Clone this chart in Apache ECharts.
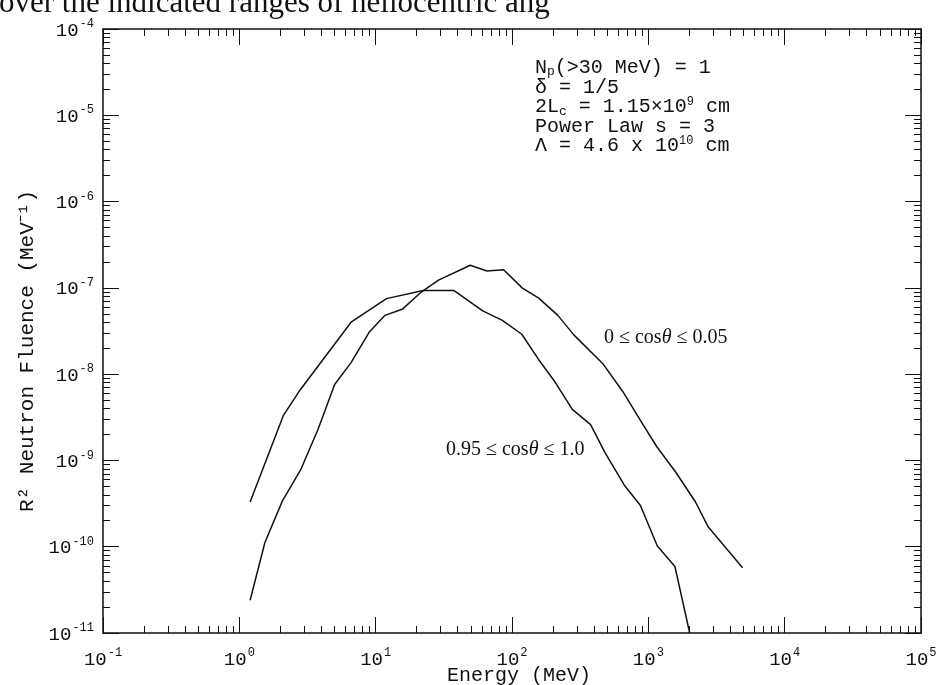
<!DOCTYPE html>
<html>
<head>
<meta charset="utf-8">
<script src="https://cdn.jsdelivr.net/npm/echarts@6/dist/echarts.min.js"></script>
<style>html,body{margin:0;padding:0;background:#fff;}#c{width:944px;height:685px;}</style>
</head>
<body>
<div id="c"></div>
<script>
// Energy (MeV) and R^2 neutron fluence (MeV^-1) for the two angular ranges
const energyPerp = [1.2, 1.54, 2.07, 2.82, 3.78, 5.0, 6.6, 8.95, 11.7, 15.8, 21.7, 28.9, 49.4, 65.5, 86.9, 118.6, 157, 217, 284, 468, 649, 877, 1151, 1600, 2218, 2754, 4910];
const fluencePerp = [2.4e-11, 1.12e-10, 3.4e-10, 7.8e-10, 2.3e-9, 7.6e-9, 1.36e-8, 3.05e-8, 4.8e-8, 5.7e-8, 9.0e-8, 1.23e-7, 1.83e-7, 1.57e-7, 1.62e-7, 1.0e-7, 7.6e-8, 4.8e-8, 2.85e-8, 1.3e-8, 6.3e-9, 2.9e-9, 1.45e-9, 7.2e-10, 3.3e-10, 1.69e-10, 5.7e-11];
const energyPara = [1.2, 2.1, 2.8, 6.6, 12, 22.3, 37.6, 61, 85, 118, 157, 207, 277, 377, 481, 665, 875, 1164, 1567, 2010];
const fluencePara = [3.3e-10, 3.3e-9, 6.6e-9, 4.0e-8, 7.5e-8, 9.3e-8, 9.3e-8, 5.4e-8, 4.2e-8, 2.9e-8, 1.47e-8, 8.1e-9, 3.9e-9, 2.6e-9, 1.23e-9, 5.2e-10, 3.0e-10, 1.02e-10, 5.9e-11, 1.0e-11];
const seriesNames = ['0 ≤ cosθ ≤ 0.05', '0.95 ≤ cosθ ≤ 1.0'];
const xRange = [0.1, 1e5];
const yRange = [1e-11, 1e-4];
const annotationLines = [
  'N{sub|p}(>30 MeV) = 1',
  'δ = 1/5',
  '2L{sub|c} = 1.15×10{sup|9} cm',
  'Power Law s = 3',
  'Λ = 4.6 x 10{sup|10} cm'
];

function minorValues(lo, hi) {
  const out = [];
  for (let d = Math.round(Math.log10(lo)); d < Math.round(Math.log10(hi)); d++) {
    for (let m = 2; m <= 9; m++) out.push(+(m * Math.pow(10, d)).toPrecision(3));
  }
  return out;
}
const MONO = 'Liberation Mono';
const SERIF = 'Liberation Serif';
const pow10 = v => {
  const e = Math.round(Math.log10(v));
  return '{b|10}{s|' + (e < 0 ? '-' + (-e) : e) + '}';
};
const labelRich = {
  b: { fontSize: 19, fontFamily: MONO, color: '#111', verticalAlign: 'bottom', lineHeight: 22 },
  s: { fontSize: 12, fontFamily: MONO, color: '#111', verticalAlign: 'bottom', lineHeight: 22, padding: [0, 0, 10, 1] }
};
const line = { show: true, lineStyle: { color: '#111', width: 1.5 } };
function axis(kind, pos, grid, major, withLabel) {
  const isX = kind === 'x';
  const range = isX ? xRange : yRange;
  const a = {
    type: 'log', logBase: 10, gridIndex: grid, position: pos,
    min: range[0], max: range[1],
    axisLine: line,
    splitLine: { show: false },
    axisTick: { show: true, inside: true, length: major ? 16 : 7, lineStyle: { color: '#111', width: 1 } },
    axisLabel: { show: withLabel, formatter: pow10, rich: labelRich, margin: isX ? 14 : 9 }
  };
  if (!major) {
    a.axisTick.customValues = minorValues(range[0], range[1]);
    a.axisLabel.show = false;
    a.axisLine = { show: false };
  }
  return a;
}
const gridRect = { left: 103, top: 29, right: 23, bottom: 52, outerBoundsMode: 'none', containLabel: false };
const xBottom = axis('x', 'bottom', 0, true, true);
xBottom.name = 'Energy (MeV)';
xBottom.nameLocation = 'middle';
xBottom.nameGap = 33;
xBottom.nameMoveOverlap = false;
xBottom.nameTextStyle = { fontFamily: MONO, fontSize: 20, color: '#111', padding: [0, 0, 0, 14] };
const yLeft = axis('y', 'left', 0, true, true);
yLeft.name = 'R² Neutron Fluence (MeV⁻¹)';
yLeft.nameLocation = 'middle';
yLeft.nameGap = 58;
yLeft.nameTextStyle = { fontFamily: MONO, fontSize: 21, color: '#111', padding: [0, 40, 0, 0] };

const option = {
  backgroundColor: '#fff',
  animation: false,
  grid: [Object.assign({}, gridRect), Object.assign({}, gridRect)],
  xAxis: [xBottom, axis('x', 'top', 0, true, false), axis('x', 'bottom', 1, false, false), axis('x', 'top', 1, false, false)],
  yAxis: [yLeft, axis('y', 'right', 0, true, false), axis('y', 'left', 1, false, false), axis('y', 'right', 1, false, false)],
  series: [
    { name: seriesNames[0], type: 'line', xAxisIndex: 0, yAxisIndex: 0, showSymbol: false, clip: true,
      lineStyle: { color: '#111', width: 1.5 }, data: energyPerp.map((e, i) => [e, fluencePerp[i]]) },
    { name: seriesNames[1], type: 'line', xAxisIndex: 0, yAxisIndex: 0, showSymbol: false, clip: true,
      lineStyle: { color: '#111', width: 1.5 }, data: energyPara.map((e, i) => [e, fluencePara[i]]) }
  ],
  graphic: [
    { type: 'text', x: -1, y: 4, style: { text: 'over the indicated ranges of heliocentric ang', font: '31px ' + SERIF, fill: '#111', verticalAlign: 'middle' } },
    { type: 'text', x: 604, y: 338, style: { text: '0 ≤ cos{i|θ} ≤ 0.05', font: '20px ' + SERIF, fill: '#111', verticalAlign: 'middle',
      rich: { i: { fontStyle: 'italic', fontSize: 20, fontFamily: SERIF } } } },
    { type: 'text', x: 446, y: 450, style: { text: '0.95 ≤ cos{i|θ} ≤ 1.0', font: '20px ' + SERIF, fill: '#111', verticalAlign: 'middle',
      rich: { i: { fontStyle: 'italic', fontSize: 20, fontFamily: SERIF } } } }
  ].concat(annotationLines.map((t, i) => ({
    type: 'text', x: 535, y: 68 + 19.5 * i,
    style: { text: t, font: '20px ' + MONO, fill: '#111', verticalAlign: 'middle',
      rich: {
        sub: { fontSize: 13, fontFamily: MONO, padding: [8, 0, 0, 0], verticalAlign: 'bottom' },
        sup: { fontSize: 12, fontFamily: MONO, padding: [0, 0, 11, 0], verticalAlign: 'bottom' }
      } }
  })))
};
const chart = echarts.init(document.getElementById('c'), null, { renderer: 'canvas' });
chart.setOption(option);
</script>
</body>
</html>
